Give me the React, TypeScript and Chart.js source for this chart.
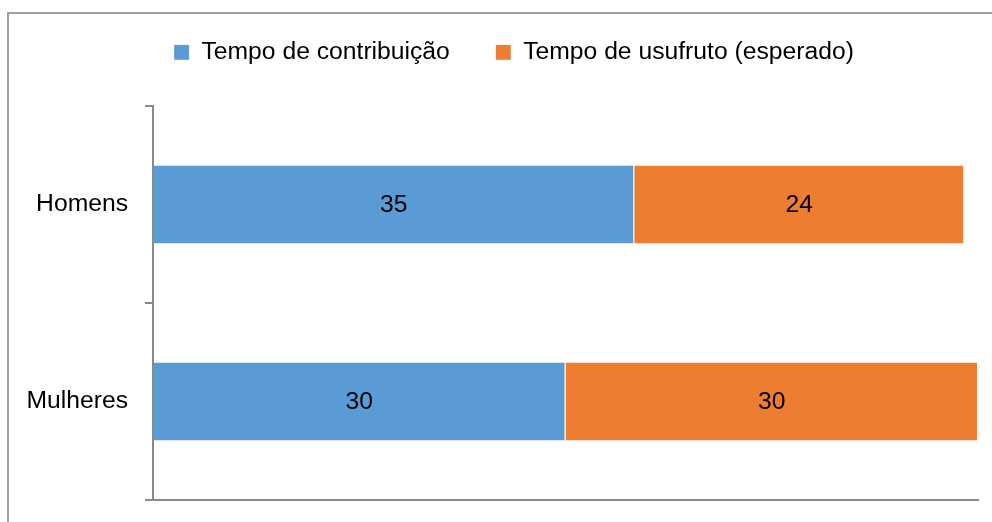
import React, { useEffect, useRef } from "react";
import { Chart, registerables } from "chart.js";

Chart.register(...registerables);

const categories = ["Homens", "Mulheres"];
const seriesNames = ["Tempo de contribuição", "Tempo de usufruto (esperado)"];
const contribuicao = [35, 30];
const usufruto = [24, 30];
const colors = ["#5B9BD5", "#ED7D31"];
const xMax = 60;

const FONT = '"Liberation Sans", Arial, sans-serif';
const FONT_SIZE = 24.7;
const AXIS_COLOR = "#898989";

const legendFit = {
  id: "legendFit",
  beforeLayout(chart: any) {
    const lg = chart.legend;
    if (lg && !lg.__patched) {
      const origFit = lg.fit;
      lg.fit = function () {
        origFit.call(this);
        this.height = 106;
      };
      const origDraw = lg.draw;
      lg.draw = function () {
        const ctx = this.ctx;
        ctx.save();
        ctx.translate(25, -6);
        origDraw.call(this);
        ctx.restore();
      };
      lg.__patched = true;
    }
  },
};

const valueLabels = {
  id: "valueLabels",
  afterDatasetsDraw(chart: any) {
    const ctx = chart.ctx;
    ctx.save();
    ctx.font = `${FONT_SIZE}px ${FONT}`;
    ctx.fillStyle = "#000000";
    ctx.textAlign = "center";
    ctx.textBaseline = "middle";
    chart.data.datasets.forEach((ds: any, i: number) => {
      chart.getDatasetMeta(i).data.forEach((bar: any, j: number) => {
        const { x, y, base } = bar.getProps(["x", "y", "base"], true);
        ctx.fillText(String(ds.data[j]), (x + base) / 2, y + 1);
      });
    });
    ctx.restore();
  },
};

export default function App() {
  const ref = useRef<HTMLCanvasElement | null>(null);

  useEffect(() => {
    if (!ref.current) return;
    const chart = new Chart(ref.current, {
      type: "bar",
      data: {
        labels: categories,
        datasets: [
          {
            label: seriesNames[0],
            data: contribuicao,
            backgroundColor: colors[0],
            borderColor: "rgba(255,255,255,0.45)",
            borderWidth: { right: 1, top: 0, bottom: 0, left: 0 },
            borderSkipped: false,
            categoryPercentage: 1,
            barPercentage: 0.396,
          },
          {
            label: seriesNames[1],
            data: usufruto,
            backgroundColor: colors[1],
            borderColor: "rgba(255,255,255,0.45)",
            borderWidth: { right: 1, top: 0, bottom: 0, left: 0 },
            borderSkipped: false,
            categoryPercentage: 1,
            barPercentage: 0.396,
          },
        ],
      },
      options: {
        indexAxis: "y",
        responsive: false,
        animation: false,
        devicePixelRatio: 1,
        layout: { padding: { left: 0, right: 14, top: 0, bottom: 0 } },
        plugins: {
          legend: {
            position: "top",
            align: "center",
            labels: {
              font: { family: FONT, size: FONT_SIZE },
              color: "#000000",
              boxWidth: 15,
              boxHeight: 15,
              padding: 46,
            },
          },
          tooltip: { enabled: false },
        },
        scales: {
          x: {
            stacked: true,
            min: 0,
            max: xMax,
            ticks: { display: false },
            grid: { display: false },
            border: { display: true, color: AXIS_COLOR, width: 2 },
            afterFit(scale: any) {
              scale.height = 22;
            },
          },
          y: {
            stacked: true,
            ticks: {
              font: { family: FONT, size: FONT_SIZE, lineHeight: 0.2 },
              color: "#000000",
              padding: 17,
            },
            grid: {
              display: true,
              drawOnChartArea: false,
              drawTicks: true,
              tickLength: 8,
              color: AXIS_COLOR,
              lineWidth: 2,
            },
            border: { display: true, color: AXIS_COLOR, width: 2 },
            afterFit(scale: any) {
              scale.width = 153;
            },
          },
        },
      } as any,
      plugins: [legendFit, valueLabels],
    });
    return () => chart.destroy();
  }, []);

  return (
    <div
      style={{
        position: "fixed",
        left: 0,
        top: 0,
        width: 992,
        height: 522,
        overflow: "hidden",
        background: "#ffffff",
      }}
    >
      <div
        style={{
          position: "absolute",
          left: 7,
          top: 12,
          width: 1100,
          height: 700,
          border: "2px solid #a0a0a0",
          boxSizing: "border-box",
        }}
      />
      <canvas
        ref={ref}
        width={992}
        height={522}
        style={{ position: "absolute", left: 0, top: 0, width: 992, height: 522 }}
      />
    </div>
  );
}
